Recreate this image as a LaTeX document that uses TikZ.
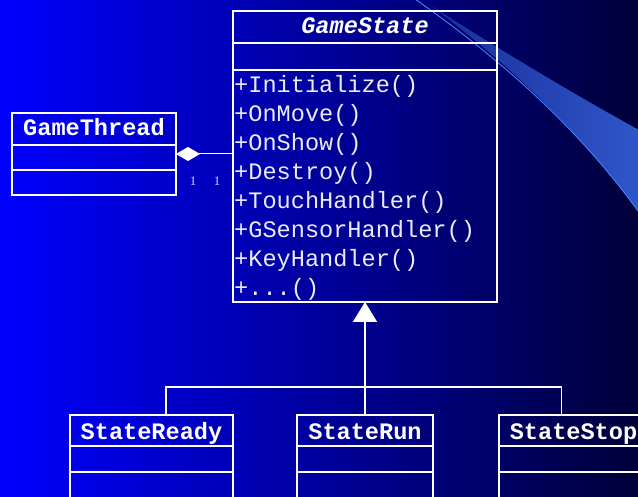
\documentclass[tikz,border=0pt]{standalone}
\usepackage{fontspec}
\newfontfamily\umlmono{Liberation Mono}
\newfontfamily\umlserif{Liberation Serif}
\usetikzlibrary{arrows.meta}
\definecolor{bgleft}{RGB}{0,0,255}
\definecolor{bgright}{RGB}{0,0,58}
\definecolor{swoosh}{RGB}{48,88,205}
\definecolor{swooshdark}{RGB}{25,45,150}
\definecolor{swooshedge}{RGB}{70,130,255}
\definecolor{multgray}{RGB}{215,215,235}
\definecolor{optext}{RGB}{235,235,250}
\tikzset{
  classbox/.style={draw=white, line width=1.8pt, inner sep=0pt, outer sep=0pt, anchor=north west},
  divider/.style={draw=white, line width=1.8pt},
  classname/.style={text=white, inner sep=0pt, anchor=base, font=\umlmono\bfseries\fontsize{23.6}{28}\selectfont},
  method/.style={text=optext, inner sep=0pt, anchor=base west, font=\umlmono\fontsize{23.6}{28}\selectfont},
  mult/.style={text=multgray, inner sep=0pt, font=\umlserif\fontsize{13}{15}\selectfont},
  link/.style={draw=white, line width=1.8pt},
  assoc/.style={draw=white, line width=1pt}
}
\begin{document}
\begin{tikzpicture}[x=1pt,y=-1pt]
\useasboundingbox (0,0) rectangle (638,497);
\clip (0,0) rectangle (638,497);
% background
\shade[left color=bgleft, right color=bgright] (0,0) rectangle (638,497);
% decorative swoosh
\shade[left color=swooshdark, right color=swoosh]
  (430,5) .. controls (510,65) and (590,140) .. (650,228)
  -- (650,136) .. controls (580,98) and (500,50) .. (430,5) -- cycle;
\draw[swooshedge, line width=0.9pt] (412,-3) .. controls (510,65) and (590,140) .. (650,228);

% GameState
\node[classbox, minimum width=264pt, minimum height=291pt] (gs) at (233,11) {};
\draw[divider] (gs.west |- 0,43) -- (gs.east |- 0,43);
\draw[divider] (gs.west |- 0,70) -- (gs.east |- 0,70);
\node[classname, font=\umlmono\bfseries\itshape\fontsize{23.6}{28}\selectfont] (gsname) at (365,34) {GameState};
\foreach \m [count=\i] in {Initialize,OnMove,OnShow,Destroy,TouchHandler,GSensorHandler,KeyHandler}
  \node[method] (op\i) at (234,{93+28.9*(\i-1)}) {+\m()};
\node[method] (op8) at (234,{93+28.9*7}) {+.{}.{}.()};

% GameThread
\node[classbox, minimum width=164pt, minimum height=82pt] (gt) at (12,113) {};
\draw[divider] (gt.west |- 0,145) -- (gt.east |- 0,145);
\draw[divider] (gt.west |- 0,170) -- (gt.east |- 0,170);
\node[classname] (gtname) at (94,136) {GameThread};

% aggregation
\coordinate (aggend) at (gt.east -| gs.west);
\draw[assoc, -{Diamond[width=14pt,length=24pt,fill=white]}] (aggend) -- (gt.east);
\node[mult] (m1) at (193,181) {1};
\node[mult] (m2) at (217,181) {1};

% subclasses
\node[classbox, minimum width=163pt, minimum height=100pt] (ready) at (70,415) {};
\node[classbox, minimum width=136pt, minimum height=100pt] (run) at (297,415) {};
\node[classbox, minimum width=150pt, minimum height=100pt] (stop) at (499,415) {};
\foreach \b in {ready,run,stop} {
  \draw[divider] (\b.west |- 0,446) -- (\b.east |- 0,446);
  \draw[divider] (\b.west |- 0,472) -- (\b.east |- 0,472);
}
\node[classname] (readyname) at (151.5,439) {StateReady};
\node[classname] (runname) at (365,439) {StateRun};
\node[classname] (stopname) at (573.5,439) {StateStop};

% generalization
\coordinate (jn) at (run.north |- 0,387);
\draw[link] ([xshift=14.5pt]ready.north) |- (jn) -| ([xshift=-12.5pt]stop.north);
\draw[link] (run.north) -- (jn);
\draw[link, -{Triangle[width=24pt,length=20pt,fill=white]}] (jn) -- (gs.south);
\end{tikzpicture}
\end{document}
